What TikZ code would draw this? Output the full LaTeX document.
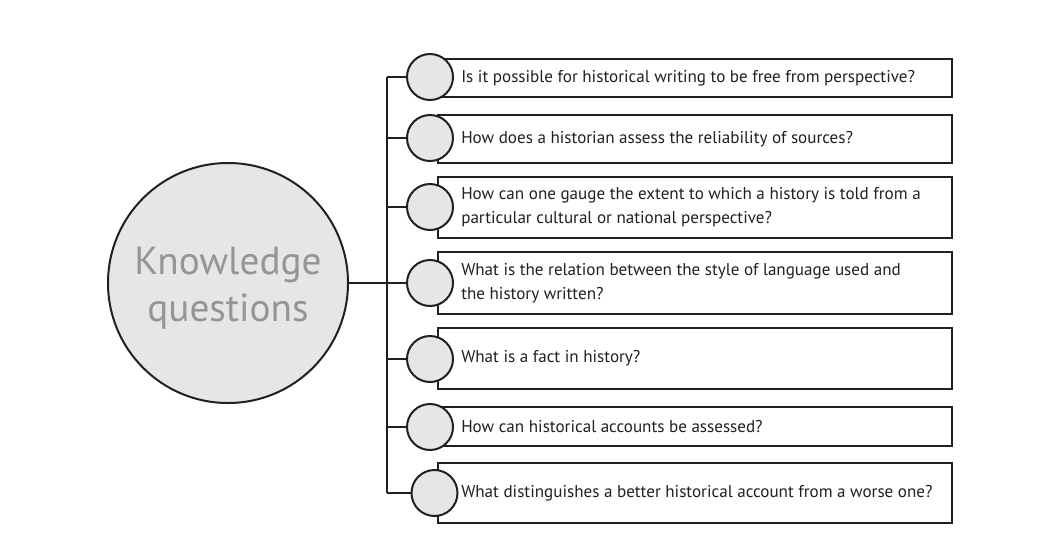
\documentclass[tikz,border=0pt]{standalone}
\usepackage{fontspec}
\setmainfont{PT Sans}
\definecolor{ink}{HTML}{231F20}
\definecolor{fillg}{HTML}{E6E6E6}
\definecolor{kqtext}{HTML}{939598}
\begin{document}
\begin{tikzpicture}[x=0.75pt,y=-0.75pt,
  qbox/.style={draw=ink, line width=1.5pt, minimum width=385.5pt, inner sep=0pt, anchor=west},
  qtext/.style={anchor=west, align=left, inner sep=0pt, text=ink, font=\fontsize{12.8}{17.8}\selectfont},
  dot/.style={circle, draw=ink, fill=fillg, line width=1.5pt, minimum size=34.5pt, inner sep=0pt},
  link/.style={draw=ink, line width=1.5pt}]
\useasboundingbox (0,0) rectangle (1046,547);
% boxes
\node[qbox, minimum height=28.5pt]  (b1) at (437,78) {};
\node[qbox, minimum height=36pt]    (b2) at (437,139) {};
\node[qbox, minimum height=45.75pt] (b3) at (437,207.5) {};
\node[qbox, minimum height=46.5pt]  (b4) at (437,283) {};
\node[qbox, minimum height=45.75pt] (b5) at (437,358.5) {};
\node[qbox, minimum height=29.25pt] (b6) at (437,426.5) {};
\node[qbox, minimum height=45pt]    (b7) at (437,493) {};
% texts
\node[qtext] (t1) at ([xshift=18pt]b1.west) {Is it possible for historical writing to be free from perspective?};
\node[qtext] (t2) at ([xshift=18pt]b2.west) {How does a historian assess the reliability of sources?};
\node[qtext] (t3) at ([xshift=18pt]b3.west) {How can one gauge the extent to which a history is told from a\\particular cultural or national perspective?};
\node[qtext] (t4) at ([xshift=18pt]b4.west) {What is the relation between the style of language used and\\the history written?};
\node[qtext] (t5) at ([xshift=18pt]b5.west) {What is a fact in history?};
\node[qtext] (t6) at ([xshift=18pt]b6.west) {How can historical accounts be assessed?};
\node[qtext] (t7) at ([xshift=18pt]b7.west) {What distinguishes a better historical account from a worse one?};
% small circles
\node[dot] (c1) at (430,77) {};
\node[dot] (c2) at (430,138) {};
\node[dot] (c3) at (430,207) {};
\node[dot] (c4) at (430,283) {};
\node[dot] (c5) at (430,359) {};
\node[dot] (c6) at (430,427) {};
\node[dot] (c7) at (434.5,493) {};
% big circle
\node[circle, draw=ink, fill=fillg, line width=1.5pt, minimum size=180pt, inner sep=0pt] (kq) at (228,283) {};
\node[align=center, inner sep=0pt, text=kqtext, font=\fontsize{29.4}{35.5}\selectfont] (kqlabel) at (228,288) {Knowledge\\questions};
% connectors
\coordinate (top) at (387,77);
\coordinate (bot) at (387,493);
\draw[link] (top) -- (bot);
\draw[link] (kq.east) -- (c4.west);
\foreach \i in {1,2,3,5,6,7} {
  \draw[link] (c\i.west -| top) -- (c\i.west);
}
\end{tikzpicture}
\end{document}
